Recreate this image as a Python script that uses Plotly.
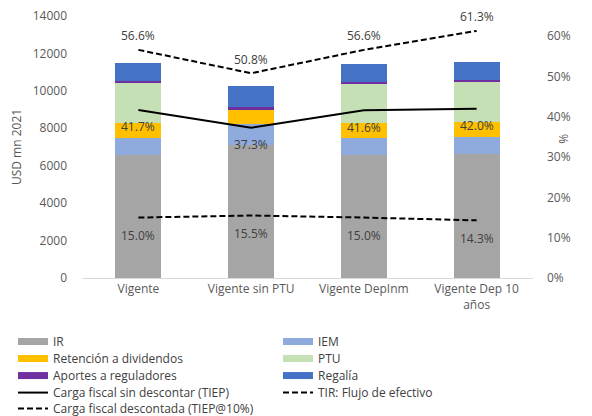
import plotly.graph_objects as go

categories = ["Vigente", "Vigente sin PTU", "Vigente DepInm", "Vigente Dep 10<br>años"]

ir = [6570, 7110, 6570, 6640]
iem = [890, 1100, 890, 910]
retencion = [800, 820, 800, 800]
ptu = [2140, 0, 2100, 2140]
aportes = [110, 90, 110, 110]
regalia = [1000, 1150, 985, 940]

tiep = [0.417, 0.373, 0.416, 0.420]
tir = [0.566, 0.508, 0.566, 0.613]
tiep10 = [0.150, 0.155, 0.150, 0.143]

bar_series = [
    ("IR", ir, "#A5A5A5"),
    ("IEM", iem, "#8FAADC"),
    ("Retención a dividendos", retencion, "#FFC000"),
    ("PTU", ptu, "#C5E0B4"),
    ("Aportes a reguladores", aportes, "#7030A0"),
    ("Regalía", regalia, "#4472C4"),
]

FONT = "Open Sans"
TXT = "#595959"
DASH = "6px,3px"

fig = go.Figure()
for name, vals, col in bar_series:
    fig.add_trace(go.Bar(x=categories, y=vals, name=name, marker=dict(color=col, line=dict(width=0)),
                         width=0.41, showlegend=False))

fig.add_trace(go.Scatter(x=categories, y=tiep, yaxis="y2", mode="lines", showlegend=False,
                         line=dict(color="black", width=2)))
fig.add_trace(go.Scatter(x=categories, y=tir, yaxis="y2", mode="lines", showlegend=False,
                         line=dict(color="black", width=2, dash=DASH)))
fig.add_trace(go.Scatter(x=categories, y=tiep10, yaxis="y2", mode="lines", showlegend=False,
                         line=dict(color="black", width=2, dash=DASH)))

# legend entries: one legend per row, two columns each (wide swatches)
legend_items = [
    ("IR", "#A5A5A5", 7, "solid", "legend"),
    ("IEM", "#8FAADC", 7, "solid", "legend"),
    ("Retención a dividendos", "#FFC000", 7, "solid", "legend2"),
    ("PTU", "#C5E0B4", 7, "solid", "legend2"),
    ("Aportes a reguladores", "#7030A0", 7, "solid", "legend3"),
    ("Regalía", "#4472C4", 7, "solid", "legend3"),
    ("Carga fiscal sin descontar (TIEP)", "black", 2, "solid", "legend4"),
    ("TIR: Flujo de efectivo", "black", 2, DASH, "legend4"),
    ("Carga fiscal descontada (TIEP@10%)", "black", 2, DASH, "legend5"),
]
for name, col, w, dash, lg in legend_items:
    fig.add_trace(go.Scatter(x=[None], y=[None], mode="lines", name=name, legend=lg,
                             line=dict(color=col, width=w, dash=dash)))

annotations = []
for series, shift in ((tir, 14), (tiep, -17), (tiep10, -18)):
    for c, v in zip(categories, series):
        annotations.append(dict(x=c, y=v, xref="x", yref="y2", text=f"{v*100:.1f}%",
                                showarrow=False, yshift=shift,
                                font=dict(family=FONT, size=12, color="#404040")))
annotations.append(dict(x=1, y=0.53, xref="paper", yref="paper", text="%", textangle=-90,
                        showarrow=False, xshift=41, font=dict(family=FONT, size=12, color=TXT)))

legend_common = dict(orientation="h", xanchor="left", yanchor="top", x=-0.153,
                     entrywidth=220, entrywidthmode="pixels", itemwidth=30, traceorder="normal",
                     font=dict(family=FONT, size=12, color="#404040"), tracegroupgap=0,
                     bgcolor="rgba(0,0,0,0)")

fig.update_layout(
    width=592, height=416,
    margin=dict(l=82, r=59, t=16, b=138, autoexpand=False),
    barmode="stack",
    plot_bgcolor="white", paper_bgcolor="white",
    font=dict(family=FONT, size=12, color=TXT),
    xaxis=dict(showline=True, linecolor="#D9D9D9", linewidth=1, ticks="", showgrid=False,
               tickfont=dict(size=12, color=TXT)),
    yaxis=dict(range=[0, 14000], dtick=2000, tickformat="d", showgrid=False, zeroline=False, ticks="",
               ticklabelstandoff=14,
               title=dict(text="USD mn 2021", font=dict(size=12, color=TXT), standoff=8),
               tickfont=dict(size=12, color=TXT)),
    yaxis2=dict(overlaying="y", side="right", range=[0, 0.65], dtick=0.1, tickformat=".0%",
                showgrid=False, zeroline=False, ticks="", ticklabelstandoff=13,
                tickfont=dict(size=12, color=TXT)),
    legend=dict(y=-0.187, **legend_common),
    legend2=dict(y=-0.252, **legend_common),
    legend3=dict(y=-0.317, **legend_common),
    legend4=dict(y=-0.382, **legend_common),
    legend5=dict(y=-0.443, **legend_common),
    annotations=annotations,
)

fig.write_html("out.html", post_script="document.body.style.margin='0';",
               config={"displayModeBar": False})
